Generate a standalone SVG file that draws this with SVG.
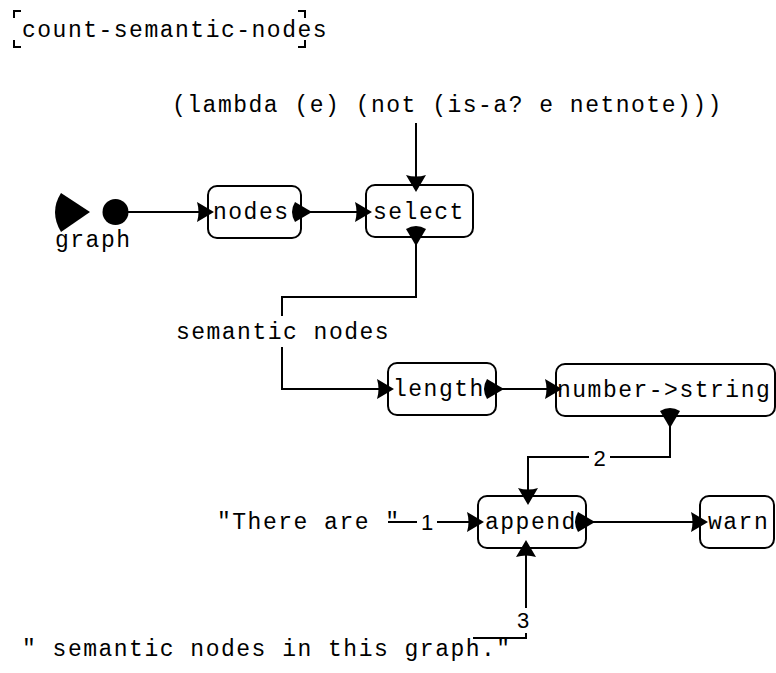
<svg xmlns="http://www.w3.org/2000/svg" xmlns:xlink="http://www.w3.org/1999/xlink" width="776" height="673" viewBox="0 0 776 673">
  <style>
    .code { font-family: "Liberation Mono", "DejaVu Sans Mono", monospace; font-size: 23px; letter-spacing: 1.5px; fill: #000; }
    .num { font-family: "Liberation Sans", Arial, sans-serif; font-size: 22px; fill: #000; text-anchor: middle; }
    .box { fill: #fff; stroke: #000; stroke-width: 2; }
    .wire { fill: none; stroke: #000; stroke-width: 2; }
    .head { fill: #000; }
  </style>
  <defs>
    <!-- input port: tip at origin, pointing along +x -->
    <path id="in" class="head" d="M0,0 L-17,-10 Q-14,0 -17,10 Z"/>
    <!-- output port: tip at origin, rounded back -->
    <path id="out" class="head" d="M0,0 L-17,-10 Q-23,0 -17,10 Z"/>
  </defs>

  <g id="title">
    <path class="wire" d="M14,18 V11 H21 M14,40 V47 H21 M298,11 H305 V18 M298,47 H305 V40"/>
    <text class="code" x="22" y="37">count-semantic-nodes</text>
  </g>

  <g id="connectors">
    <path class="wire" d="M128,212 H205"/>
    <path class="wire" d="M305,212 H362"/>
    <path class="wire" d="M416,123 V184"/>
    <path class="wire" d="M416,240 V297 H282 V316 M282,347 V389 H384"/>
    <path class="wire" d="M498,389 H551"/>
    <path class="wire" d="M670,422 V457 H610 M589,457 H528 V496"/>
    <path class="wire" d="M388,522 H417 M437,522 H474"/>
    <path class="wire" d="M590,522 H698"/>
    <path class="wire" d="M473,638 H526 V633 M526,608 V550"/>
    <text class="code" x="283" y="339" text-anchor="middle">semantic nodes</text>
    <text class="num" x="599.5" y="466">2</text>
    <text class="num" x="427" y="530">1</text>
    <text class="num" x="523" y="628">3</text>
  </g>

  <g id="graph">
    <path class="head" d="M90,212 L61,193 Q49,212 61,232 Z"/>
    <circle class="head" cx="115.5" cy="212" r="13"/>
    <text class="code" x="55" y="247">graph</text>
  </g>

  <g id="lambda">
    <text class="code" x="172" y="112">(lambda (e) (not (is-a? e netnote)))</text>
  </g>

  <g id="nodes">
    <rect class="box" x="208" y="186" width="93" height="52" rx="9"/>
    <text class="code" x="213" y="219">nodes</text>
    <use xlink:href="#in" transform="translate(214,212)"/>
    <use xlink:href="#out" transform="translate(312,212)"/>
  </g>

  <g id="select">
    <rect class="box" x="366" y="185" width="107" height="52" rx="9"/>
    <text class="code" x="373" y="219">select</text>
    <use xlink:href="#in" transform="translate(372,212)"/>
    <use xlink:href="#in" transform="translate(416,192) rotate(90)"/>
    <use xlink:href="#out" transform="translate(416,246) rotate(90)"/>
  </g>

  <g id="length">
    <rect class="box" x="388" y="363" width="108" height="52" rx="9"/>
    <text class="code" x="393" y="396">length</text>
    <use xlink:href="#in" transform="translate(394,389)"/>
    <use xlink:href="#out" transform="translate(504,389)"/>
  </g>

  <g id="number-string">
    <rect class="box" x="556" y="364" width="219" height="52" rx="9"/>
    <text class="code" x="557" y="397">number-&gt;string</text>
    <use xlink:href="#in" transform="translate(562,389)"/>
    <use xlink:href="#out" transform="translate(670,428) rotate(90)"/>
  </g>

  <g id="str-there-are">
    <text class="code" x="217" y="529">"There are "</text>
  </g>

  <g id="append">
    <rect class="box" x="478" y="496" width="108" height="52" rx="9"/>
    <text class="code" x="485" y="529">append</text>
    <use xlink:href="#in" transform="translate(484,522)"/>
    <use xlink:href="#in" transform="translate(528,505) rotate(90)"/>
    <use xlink:href="#in" transform="translate(526,540) rotate(-90)"/>
    <use xlink:href="#out" transform="translate(595,522)"/>
  </g>

  <g id="warn">
    <rect class="box" x="700" y="496" width="74" height="52" rx="9"/>
    <text class="code" x="708" y="529">warn</text>
    <use xlink:href="#in" transform="translate(708,522)"/>
  </g>

  <g id="str-semantic-nodes">
    <text class="code" x="22" y="656">" semantic nodes in this graph."</text>
  </g>
</svg>
